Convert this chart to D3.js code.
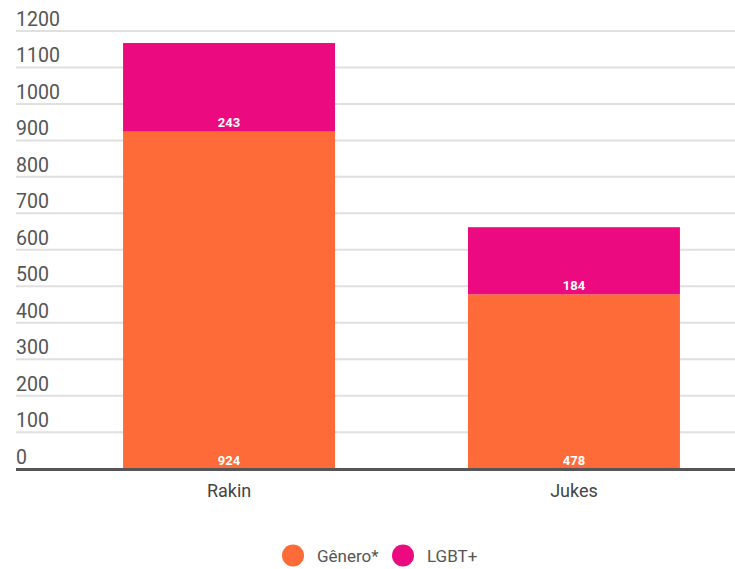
<!DOCTYPE html>
<html>
<head>
<meta charset="utf-8">
<script src="https://cdn.jsdelivr.net/npm/d3@7/dist/d3.min.js"></script>
<style>
  html, body { margin: 0; padding: 0; background: #fff; }
  svg { display: block; font-family: Roboto, "Noto Sans", sans-serif; }
</style>
</head>
<body>
<svg id="chart" width="735" height="569"></svg>
<script>
// Data
const categories = ["Rakin", "Jukes"];
const genero = [924, 478];
const lgbt = [243, 184];
const seriesNames = ["Gênero*", "LGBT+"];
const seriesColors = ["#FE6A38", "#EB0A80"];
const yTicks = [0, 100, 200, 300, 400, 500, 600, 700, 800, 900, 1000, 1100, 1200];

const svg = d3.select("#chart");
const gridLeft = 16, gridRight = 735;

const y = d3.scaleLinear().domain([0, 1200]).range([468.6, 31]);
const x = d3.scaleBand().domain(categories).range([56.5, 746.5])
  .paddingInner(0.3855).paddingOuter(0.193);

// Gridlines and tick labels
const grid = svg.append("g");
grid.selectAll("line").data(yTicks.slice(1)).join("line")
  .attr("x1", gridLeft).attr("x2", gridRight)
  .attr("y1", d => y(d)).attr("y2", d => y(d))
  .attr("stroke", "#e0e0e0").attr("stroke-width", 2);
grid.selectAll("text").data(yTicks).join("text")
  .attr("x", gridLeft).attr("y", d => y(d) - 5)
  .attr("fill", "#555").attr("font-size", 19.5)
  .text(d => d);

// Stacked bars
const rows = categories.map((c, i) => ({ c, g: genero[i], l: lgbt[i] }));
const bars = svg.append("g");
bars.selectAll("rect.g").data(rows).join("rect").attr("class", "g")
  .attr("x", d => x(d.c)).attr("width", x.bandwidth())
  .attr("y", d => y(d.g)).attr("height", d => y(0) - y(d.g))
  .attr("fill", seriesColors[0]);
bars.selectAll("rect.l").data(rows).join("rect").attr("class", "l")
  .attr("x", d => x(d.c)).attr("width", x.bandwidth())
  .attr("y", d => y(d.g + d.l)).attr("height", d => y(d.g) - y(d.g + d.l))
  .attr("fill", seriesColors[1]);

// Value labels near the bottom of each segment
const labels = svg.append("g").attr("fill", "#fff").attr("font-size", 13)
  .attr("font-weight", "bold").attr("text-anchor", "middle");
labels.selectAll("text.g").data(rows).join("text").attr("class", "g")
  .attr("x", d => x(d.c) + x.bandwidth() / 2).attr("y", d => y(0) - 4)
  .text(d => d.g);
labels.selectAll("text.l").data(rows).join("text").attr("class", "l")
  .attr("x", d => x(d.c) + x.bandwidth() / 2).attr("y", d => y(d.g) - 4.5)
  .text(d => d.l);

// Baseline
svg.append("line")
  .attr("x1", gridLeft).attr("x2", gridRight)
  .attr("y1", y(0) + 1).attr("y2", y(0) + 1)
  .attr("stroke", "#555").attr("stroke-width", 3);

// Category labels
svg.append("g").selectAll("text").data(categories).join("text")
  .attr("x", d => x(d) + x.bandwidth() / 2).attr("y", 497)
  .attr("text-anchor", "middle").attr("fill", "#444").attr("font-size", 18)
  .text(d => d);

// Legend
const legendItems = [{ x: 293, label: seriesNames[0], color: seriesColors[0] },
                     { x: 403, label: seriesNames[1], color: seriesColors[1] }];
const lg = svg.append("g");
lg.selectAll("circle").data(legendItems).join("circle")
  .attr("cx", d => d.x).attr("cy", 555.5).attr("r", 11)
  .attr("fill", d => d.color);
lg.selectAll("text").data(legendItems).join("text")
  .attr("x", d => d.x + 24).attr("y", 561.5)
  .attr("fill", "#555").attr("font-size", 17)
  .text(d => d.label);
</script>
</body>
</html>
